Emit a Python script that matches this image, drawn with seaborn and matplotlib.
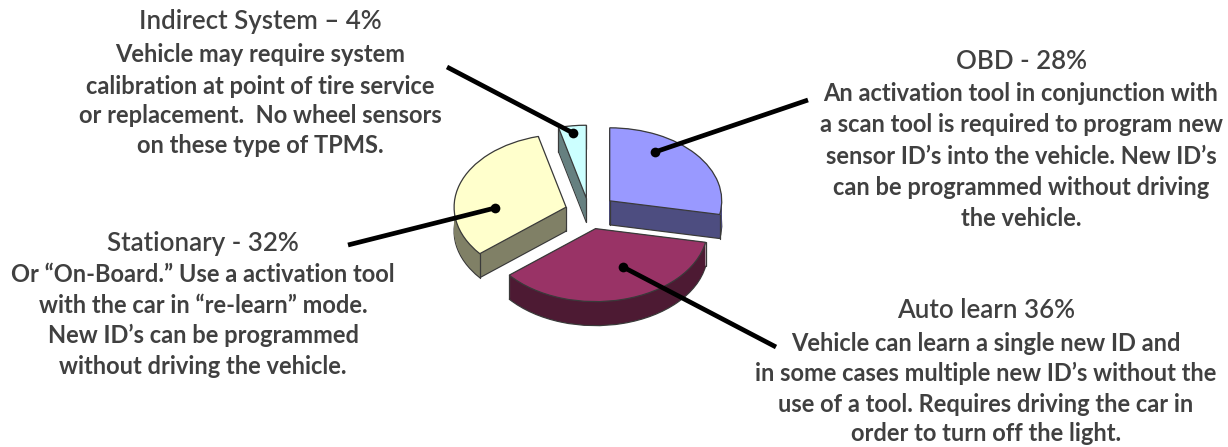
import numpy as np
import matplotlib
matplotlib.use("Agg")
import matplotlib.pyplot as plt
import seaborn as sns

# ---- data ----
categories = ["OBD", "Auto learn", "Stationary", "Indirect System"]
shares = [28, 36, 32, 4]
top_colors = ["#9999FF", "#993366", "#FFFFCC", "#CCFFFF"]

heading_indirect = "Indirect System \u2013 4%"
body_indirect = ["Vehicle may require system", "calibration at point of tire service",
                 "or replacement.  No wheel sensors", "on these type of TPMS."]
heading_obd = "OBD - 28%"
body_obd = ["An activation tool in conjunction with", "a scan tool is required to program new",
            "sensor ID\u2019s into the vehicle. New ID\u2019s", "can be programmed without driving",
            "the vehicle."]
heading_stationary = "Stationary - 32%"
body_stationary = ["Or \u201cOn-Board.\u201d Use a activation tool", "with the car in \u201cre-learn\u201d mode.",
                   "New ID\u2019s can be programmed", "without driving the vehicle."]
heading_auto = "Auto learn 36%"
body_auto = ["Vehicle can learn a single new ID and", "in some cases multiple new ID\u2019s without the",
             "use of a tool. Requires driving the car in", "order to turn off the light."]

sns.set_theme(style="white")
plt.rcParams["font.family"] = ["Lato", "DejaVu Sans"]

W, H = 1228, 447
fig = plt.figure(figsize=(W / 100, H / 100), dpi=100, facecolor="white")

# pie axes: one radius is 112 px wide and 73 px tall (tilted disc)
rx, ry, cx, cy, depth_px = 112, 73, 589, 212, 24
ax = fig.add_axes([0, 0, 1, 1])
palette = sns.color_palette(top_colors)
walls = [tuple(np.array(c) * 0.5) for c in palette]
explode = [0.24, 0.235, 0.215, 0.19]
edge = "#3a3a3a"

# extruded walls: stacked pies from bottom to top
n_layers = depth_px
for k in range(n_layers, 0, -1):
    off = -k / ry
    props = dict(linewidth=0.9, edgecolor=edge) if k == n_layers else dict(linewidth=0.5, edgecolor="none")
    ax.pie(shares, colors=walls, explode=explode, startangle=90, counterclock=False,
           center=(0, off), radius=1, wedgeprops=props)

# corner verticals, hidden later by the top faces where they would not be seen
probe, _ = ax.pie(shares, colors=walls, explode=explode, startangle=90, counterclock=False,
                  center=(0, 0), radius=1, wedgeprops=dict(linewidth=0, edgecolor="none"))
for w in probe:
    x0, y0 = w.center
    pts = [(x0, y0)]
    for t in (w.theta1, w.theta2):
        pts.append((x0 + np.cos(np.radians(t)), y0 + np.sin(np.radians(t))))
    for px_, py_ in pts:
        ax.plot([px_, px_], [py_, py_ - depth_px / ry], color=edge, lw=0.9, zorder=3)

top, _ = ax.pie(shares, colors=palette, explode=explode, startangle=90, counterclock=False,
                center=(0, 0), radius=1, wedgeprops=dict(linewidth=0.9, edgecolor=edge, zorder=4))

ax.set_aspect("auto")
ax.set_xlim(-cx / rx, (W - cx) / rx)
ax.set_ylim((cy - H) / ry, cy / ry)
ax.set_position([0, 0, 1, 1])
ax.axis("off")

# overlay in pixel coordinates for callouts and text
ov = fig.add_axes([0, 0, 1, 1], facecolor="none")
ov.set_xlim(0, W)
ov.set_ylim(H, 0)
ov.axis("off")

leaders = [((447, 67), (573, 133)), ((808, 100), (655, 152)),
           ((348, 245), (495, 208)), ((776, 347), (623, 267))]
for (a, b) in leaders:
    ov.plot([a[0], b[0]], [a[1], b[1]], color="black", lw=3.4, solid_capstyle="butt")
    ov.plot([b[0]], [b[1]], "o", color="black", ms=7, mew=0)

TXT = "#404040"
def block(x, heading, hy, lines, ys):
    ov.text(x, hy + 1.5, heading, ha="center", va="center", fontsize=HS, color=TXT, fontweight="semibold")
    for s, y in zip(lines, ys):
        ov.text(x, y + 1.5, s, ha="center", va="center", fontsize=BS, color=TXT, fontweight="bold")

HS, BS = 18.6, 17.0
block(260, heading_indirect, 20, body_indirect, [53, 85, 114, 144])
block(1021, heading_obd, 60, body_obd, [92, 123, 155, 186, 217])
block(203, heading_stationary, 242, body_stationary, [273, 304, 334, 365])
block(986, heading_auto, 309, body_auto, [342, 372, 403, 432])

fig.savefig("out.png", dpi=100, facecolor="white")
